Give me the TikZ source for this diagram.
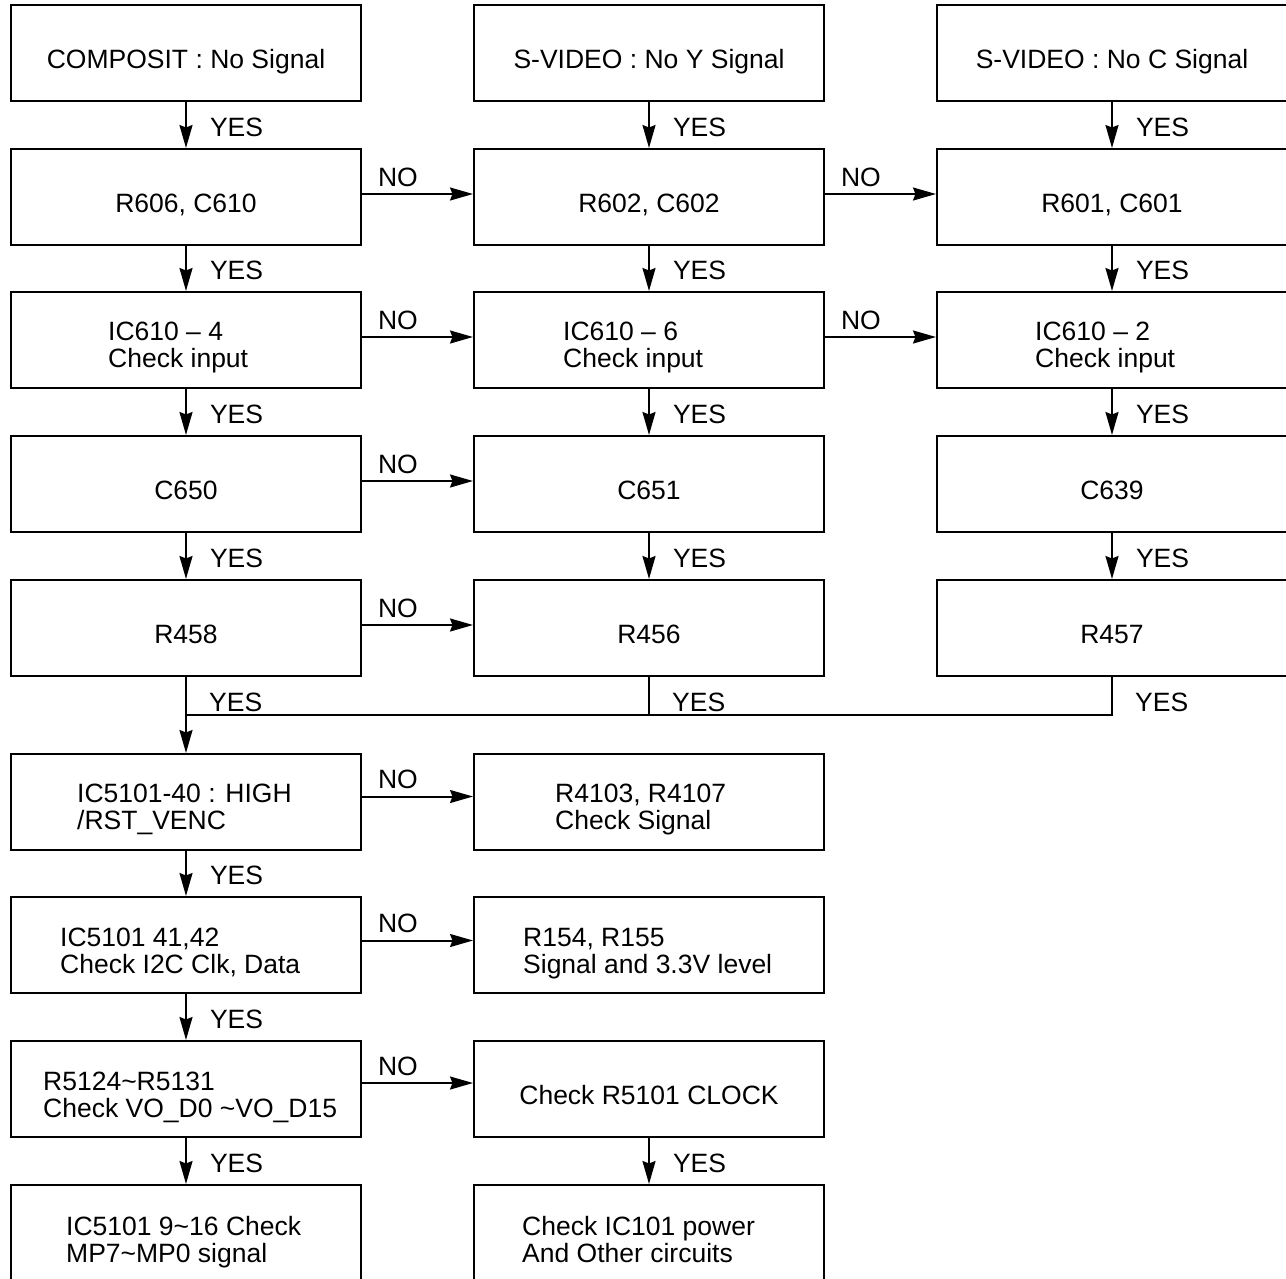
\documentclass[tikz,border=0pt]{standalone}
\usepackage{fontspec}
\setmainfont{Liberation Sans}
\usetikzlibrary{arrows.meta,calc}
\begin{document}
\begin{tikzpicture}[x=1pt,y=-1pt,
  box/.style={draw, line width=2pt, minimum width=350pt, minimum height=96pt, inner sep=0pt},
  txt/.style={inner sep=0pt, font=\fontsize{26.5}{27}\selectfont, align=left},
  lab/.style={inner sep=0pt, font=\fontsize{26.5}{27}\selectfont, anchor=base west},
  lin/.style={line width=2pt},
  arr/.style={line width=2pt, -{Stealth[length=23pt,width=13pt,inset=2.5pt]}},
]
\useasboundingbox (0,0) rectangle (1286,1278);
\clip (0,0) rectangle (1286,1278);

% boxes
\foreach \c/\x in {a/186,b/649,c/1112}{
  \foreach \i/\y in {1/53,2/197,3/340,4/484,5/628}{
    \node[box] (\c\i) at (\x,\y) {};
  }
}
\node[box] (a6) at (186,802) {};
\node[box] (b6) at (649,802) {};
\node[box] (a7) at (186,945) {};
\node[box] (b7) at (649,945) {};
\node[box] (a8) at (186,1089) {};
\node[box] (b8) at (649,1089) {};
\node[box] (a9) at (186,1233) {};
\node[box] (b9) at (649,1233) {};

% texts
\node[txt, anchor=base] (ta1) at (186,68) {COMPOSIT : No Signal};
\node[txt, anchor=base] (tb1) at (649,68) {S-VIDEO : No Y Signal};
\node[txt, anchor=base] (tc1) at (1112,68) {S-VIDEO : No C Signal};
\node[txt, anchor=base] (ta2) at (186,212) {R606, C610};
\node[txt, anchor=base] (tb2) at (649,212) {R602, C602};
\node[txt, anchor=base] (tc2) at (1112,212) {R601, C601};
\node[txt, anchor=north west] (ta3) at (108,322) {IC610 -- 4\\Check input};
\node[txt, anchor=north west] (tb3) at (563,322) {IC610 -- 6\\Check input};
\node[txt, anchor=north west] (tc3) at (1035,322) {IC610 -- 2\\Check input};
\node[txt, anchor=base] (ta4) at (186,499) {C650};
\node[txt, anchor=base] (tb4) at (649,499) {C651};
\node[txt, anchor=base] (tc4) at (1112,499) {C639};
\node[txt, anchor=base] (ta5) at (186,643) {R458};
\node[txt, anchor=base] (tb5) at (649,643) {R456};
\node[txt, anchor=base] (tc5) at (1112,643) {R457};
\node[txt, anchor=north west] (ta6) at (77,784) {IC5101-40 : HIGH\\/RST\_VENC};
\node[txt, anchor=north west] (tb6) at (555,784) {R4103, R4107\\Check Signal};
\node[txt, anchor=north west] (ta7) at (60,928) {IC5101 41,42\\Check I2C Clk, Data};
\node[txt, anchor=north west] (tb7) at (523,928) {R154, R155\\Signal and 3.3V level};
\node[txt, anchor=north west] (ta8) at (43,1072) {R5124\textasciitilde R5131\\Check VO\_D0 \textasciitilde VO\_D15};
\node[txt, anchor=base] (tb8) at (649,1104) {Check R5101 CLOCK};
\node[txt, anchor=north west] (ta9) at (66,1216) {IC5101 9\textasciitilde 16 Check\\MP7\textasciitilde MP0 signal};
\node[txt, anchor=north west] (tb9) at (522,1216) {Check IC101 power\\And Other circuits};

% vertical YES arrows
\foreach \c in {a,b,c}{
  \foreach \i/\j in {1/2,2/3,3/4,4/5}{
    \draw[arr] (\c\i) -- (\c\j) node[lab, pos=0.74, xshift=23pt] (y\c\i) {YES};
  }
}
\foreach \i/\j in {6/7,7/8,8/9}{
  \draw[arr] (a\i) -- (a\j) node[lab, pos=0.74, xshift=23pt] (ya\i) {YES};
}
\draw[arr] (b8) -- (b9) node[lab, pos=0.74, xshift=23pt] (yb8) {YES};

% horizontal NO arrows
\foreach \i/\s in {2/3,3/3,4/3,5/3,6/5.5,7/4.5,8/6}{
  \draw[arr] ([yshift=\s pt]a\i.east) -- ([yshift=\s pt]b\i.west)
    node[lab, pos=0, xshift=15pt, yshift=8pt] (na\i) {NO};
}
\foreach \i/\s in {2/3,3/3}{
  \draw[arr] ([yshift=\s pt]b\i.east) -- ([yshift=\s pt]c\i.west)
    node[lab, pos=0, xshift=15pt, yshift=8pt] (nb\i) {NO};
}

% merge
\coordinate (j) at (186,715);
\draw[arr] (a5) -- (a6);
\draw[lin] (b5.south) -- (b5.south |- j);
\draw[lin] (c5.south) -- (c5.south |- j) -- (j);
\node[lab] (ya5) at (209,711) {YES};
\node[lab] (yb5) at (672,711) {YES};
\node[lab] (yc5) at (1135,711) {YES};
\end{tikzpicture}
\end{document}
